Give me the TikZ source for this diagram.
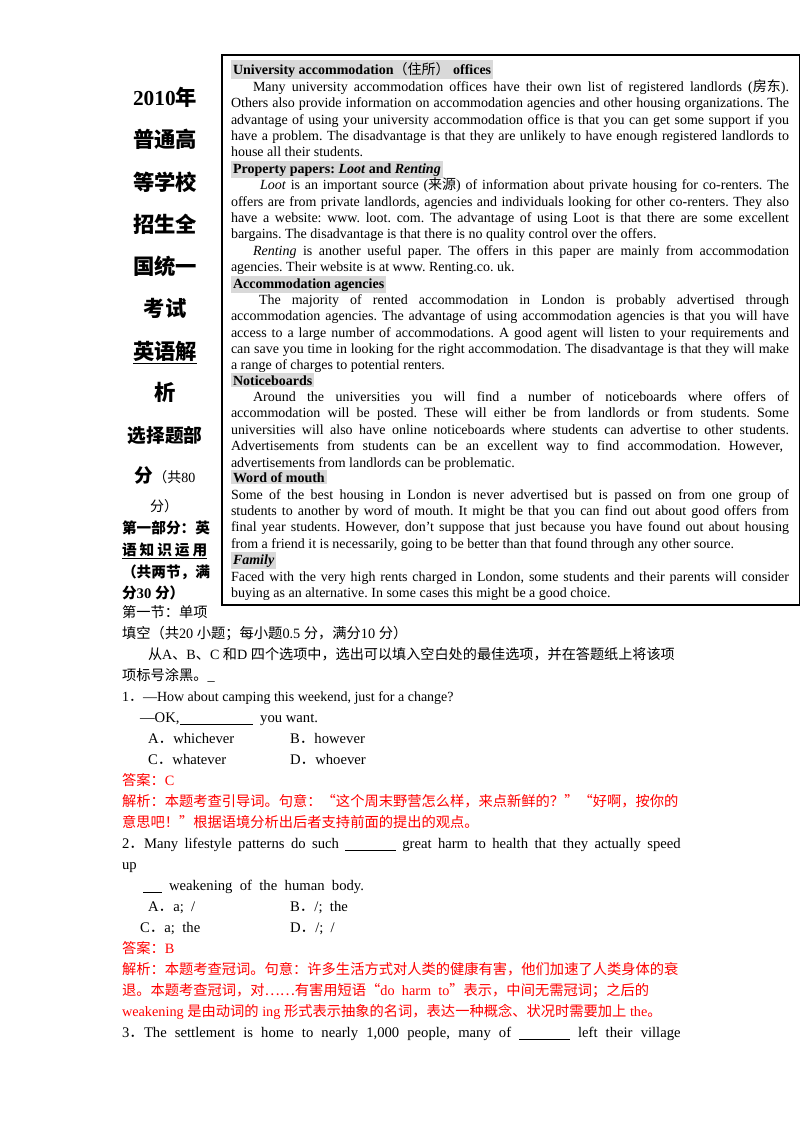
\documentclass[tikz,border=0pt]{standalone}
\usepackage{fontspec}
\setmainfont{Liberation Serif}
\newfontfamily\cjk{Noto Sans CJK SC}
\newcommand\en[1]{{\rmfamily #1}}
\newcommand\zh[1]{{\cjk #1}}
\newcommand\JJ[2]{\makebox[#1][s]{#2}}
\frenchspacing
\begin{document}
\begin{tikzpicture}[x=0.75pt,y=-0.75pt,
  L/.style={anchor=base west,inner sep=0,outer sep=0,font=\fontsize{10.5}{12}\selectfont},
  H/.style={L,fill=black!15,inner xsep=1.5pt,inner ysep=1.5pt,font=\fontsize{10.5}{12}\selectfont\bfseries},
  M/.style={anchor=base west,inner sep=0,outer sep=0,font=\fontsize{11}{12}\selectfont},
  C/.style={M,font=\fontsize{10.7}{12}\selectfont\cjk},
  R/.style={M,text=red,font=\fontsize{10.7}{12}\selectfont\cjk},
  T/.style={anchor=base,inner sep=0,font=\fontsize{16}{18}\selectfont\cjk\bfseries}]
\useasboundingbox (0,0) rectangle (800,1132);
\fill[white] (0,0) rectangle (800,1132);
\draw[line width=0.8pt] (222,55) rectangle (799.5,605);
% box text
\node[H] (h1) at (231,74) {University accommodation\zh{\mdseries（住所）} offices};
\node[L] (p1) at (253,91) {\JJ{402pt}{Many university accommodation offices have their own list of registered landlords (\zh{房东}).}};
\node[L] (p2) at (231,107) {\JJ{418.5pt}{Others also provide information on accommodation agencies and other housing organizations. The}};
\node[L] (p3) at (231,124) {\JJ{418.5pt}{advantage of using your university accommodation office is that you can get some support if you}};
\node[L] (p4) at (231,140) {\JJ{418.5pt}{have a problem. The disadvantage is that they are unlikely to have enough registered landlords to}};
\node[L] (p5) at (231,156) {house all their students.};
\node[H] (h2) at (231,173) {Property papers: \textit{Loot} and \textit{Renting}};
\node[L] (p6) at (260,189) {\JJ{396.75pt}{\textit{Loot} is an important source (\zh{来源}) of information about private housing for co-renters. The}};
\node[L] (p7) at (231,206) {\JJ{418.5pt}{offers are from private landlords, agencies and individuals looking for other co-renters. They also}};
\node[L] (p8) at (231,222) {\JJ{418.5pt}{have a website: www. loot. com. The advantage of using Loot is that there are some excellent}};
\node[L] (p9) at (231,238) {bargains. The disadvantage is that there is no quality control over the offers.};
\node[L] (p10) at (253,255) {\JJ{402pt}{\textit{Renting} is another useful paper. The offers in this paper are mainly from accommodation}};
\node[L] (p11) at (231,271) {agencies. Their website is at www. Renting.co. uk.};
\node[H] (h3) at (231,288) {Accommodation agencies};
\node[L] (p12) at (259,304) {\JJ{397.5pt}{The majority of rented accommodation in London is probably advertised through}};
\node[L] (p13) at (231,320) {\JJ{418.5pt}{accommodation agencies. The advantage of using accommodation agencies is that you will have}};
\node[L] (p14) at (231,337) {\JJ{418.5pt}{access to a large number of accommodations. A good agent will listen to your requirements and}};
\node[L] (p15) at (231,353) {\JJ{418.5pt}{can save you time in looking for the right accommodation. The disadvantage is that they will make}};
\node[L] (p16) at (231,369) {a range of charges to potential renters.};
\node[H] (h4) at (231,385) {Noticeboards};
\node[L] (p17) at (253,401) {\JJ{402pt}{Around the universities you will find a number of noticeboards where offers of}};
\node[L] (p18) at (231,417) {\JJ{418.5pt}{accommodation will be posted. These will either be from landlords or from students. Some}};
\node[L] (p19) at (231,434) {\JJ{418.5pt}{universities will also have online noticeboards where students can advertise to other students.}};
\node[L] (p20) at (231,450) {\JJ{414pt}{Advertisements from students can be an excellent way to find accommodation. However,}};
\node[L] (p21) at (231,467) {advertisements from landlords can be problematic.};
\node[H] (h5) at (231,482) {Word of mouth};
\node[L] (p22) at (231,499) {\JJ{418.5pt}{Some of the best housing in London is never advertised but is passed on from one group of}};
\node[L] (p23) at (231,515) {\JJ{418.5pt}{students to another by word of mouth. It might be that you can find out about good offers from}};
\node[L] (p24) at (231,531) {\JJ{418.5pt}{final year students. However, don't suppose that just because you have found out about housing}};
\node[L] (p25) at (231,548) {from a friend it is necessarily, going to be better than that found through any other source.};
\node[H] (h6) at (231,564) {\textit{Family}};
\node[L] (p26) at (231,581) {\JJ{418.5pt}{Faced with the very high rents charged in London, some students and their parents will consider}};
\node[L] (p27) at (231,597) {buying as an alternative. In some cases this might be a good choice.};
% left column
\node[T] (t1) at (165,105) {\en{2010}年};
\node[T] (t2) at (165,147) {普通高};
\node[T] (t3) at (165,190) {等学校};
\node[T] (t4) at (165,232) {招生全};
\node[T] (t5) at (165,274) {国统一};
\node[T] (t6) at (165,316) {考试};
\node[T] (t7) at (165,359) {\underline{英语解}};
\node[T] (t8) at (165,400) {析};
\node[T,font=\fontsize{14}{16}\selectfont\cjk\bfseries] (t9) at (165,442) {选择题部};
\node[T,font=\fontsize{14}{16}\selectfont\cjk\bfseries] (t10) at (165,482) {分{\mdseries\fontsize{10.5}{12}\selectfont （共\en{80}}};
\node[M,font=\fontsize{10.5}{12}\selectfont\cjk] (t11) at (150,511) {分）};
\node[M,font=\fontsize{11}{12}\selectfont\cjk\bfseries] (t12) at (122,533) {\JJ{64pt}{第一部分：英}};
\node[M,font=\fontsize{11}{12}\selectfont\cjk\bfseries] (t13) at (122,555) {\underline{\JJ{64pt}{语 知 识 运 用}}};
\node[M,font=\fontsize{11}{12}\selectfont\cjk\bfseries] (t14) at (122,577) {\JJ{64pt}{（共两节，满}};
\node[M,font=\fontsize{11}{12}\selectfont\cjk\bfseries] (t15) at (122,598) {分\en{\bfseries 30 }分）};
% lower text
\node[C] (l1) at (122,617) {第一节：单项};
\node[C] (l2) at (122,638) {填空（共\en{20 }小题；每小题\en{0.5 }分，满分\en{10 }分）};
\node[C,font=\fontsize{10.6}{12}\selectfont\cjk] (l3) at (148,659) {从\en{A}、\en{B}、\en{C }和\en{D }四个选项中，选出可以填入空白处的最佳选项，并在答题纸上将该项};
\node[C] (l4) at (122,680) {项标号涂黑。\en{\_}};
\node[M,font=\fontsize{10.5}{12}\selectfont] (q1) at (122,701) {1\zh{．}—How about camping this weekend, just for a change?};
\node[M] (q1b) at (140,722) {—OK,\underline{\hspace{55pt}}\ \ you want.};
\node[M] (q1A) at (148,743) {A\zh{．}whichever};
\node[M] (q1B) at (290,743) {B\zh{．}however};
\node[M] (q1C) at (148,764) {C\zh{．}whatever};
\node[M] (q1D) at (290,764) {D\zh{．}whoever};
\node[R] (a1) at (122,785) {答案：\en{C}};
\node[R] (e1) at (122,806) {解析：本题考查引导词。句意：“这个周末野营怎么样，来点新鲜的？”“好啊，按你的};
\node[R] (e1b) at (122,827) {意思吧！”根据语境分析出后者支持前面的提出的观点。};
\node[M] (q2) at (122,848) {\JJ{419pt}{2\zh{．}Many lifestyle patterns do such \underline{\hspace{38pt}} great harm to health that they actually speed}};
\node[M] (q2b) at (122,869) {up};
\node[M] (q2c) at (143,890) {\underline{\hspace{14pt}}\ \ weakening\ \ of\ \ the\ \ human\ \ body.};
\node[M] (q2A) at (148,911) {A\zh{．}a;\ \ /};
\node[M] (q2B) at (290,911) {B\zh{．}/;\ \ the};
\node[M] (q2C) at (140,932) {C\zh{．}a;\ \ the};
\node[M] (q2D) at (290,932) {D\zh{．}/;\ \ /};
\node[R] (a2) at (122,953) {答案：\en{B}};
\node[R] (e2) at (122,974) {解析：本题考查冠词。句意：许多生活方式对人类的健康有害，他们加速了人类身体的衰};
\node[R] (e2b) at (122,995) {退。本题考查冠词，对……有害用短语“\en{do\ \ harm\ \ to}”表示，中间无需冠词；之后的};
\node[R] (e2c) at (122,1016) {\en{weakening }是由动词的\en{ ing }形式表示抽象的名词，表达一种概念、状况时需要加上\en{ the}。};
\node[M] (q3) at (122,1037) {\JJ{419pt}{3\zh{．}The settlement is home to nearly 1,000 people, many of \underline{\hspace{38pt}} left their village}};
\end{tikzpicture}
\end{document}
